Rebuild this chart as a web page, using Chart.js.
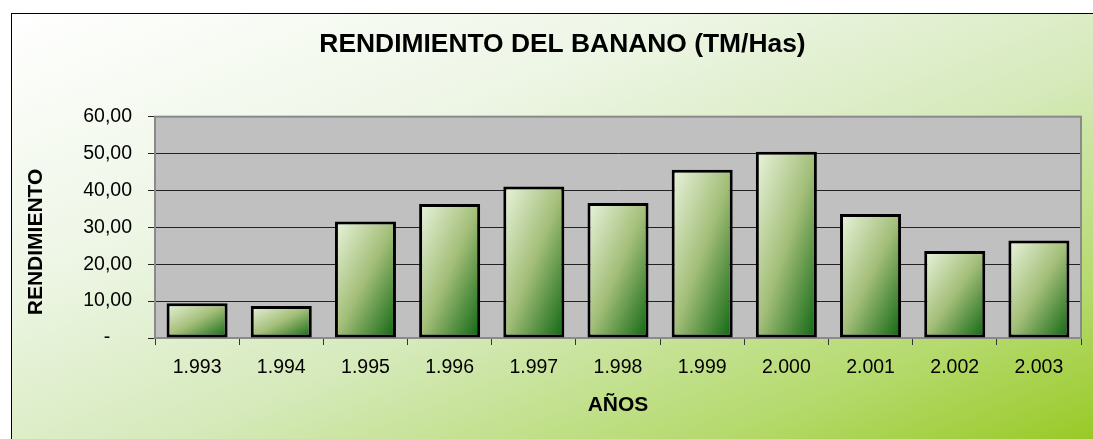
<!DOCTYPE html>
<html>
<head>
<meta charset="utf-8">
<script src="https://cdn.jsdelivr.net/npm/chart.js@4.4.1/dist/chart.umd.min.js"></script>
<style>
  html, body { margin: 0; padding: 0; background: #fff; overflow: hidden; }
  #frame {
    position: absolute; left: 11px; top: 13px; width: 1100px; height: 440px;
    border: 1px solid #000;
    background: linear-gradient(to bottom right, #ffffff 0%, #eef6e6 30%, #d6eabc 55%, #b5da6e 80%, #95c71c 100%);
  }
  #wrap { position: absolute; left: 0; top: 0; width: 1093px; height: 439px; }
</style>
</head>
<body>
<div id="frame"></div>
<div id="wrap"><canvas id="chart"></canvas></div>
<script>
// ===== DATA =====
const years = ["1.993", "1.994", "1.995", "1.996", "1.997", "1.998", "1.999", "2.000", "2.001", "2.002", "2.003"];
const rendimiento = [9.4, 8.7, 31.6, 36.3, 41.1, 36.6, 45.6, 50.5, 33.6, 23.6, 26.4];
const yTicks = [0, 10, 20, 30, 40, 50, 60];

const chartTitle = "RENDIMIENTO DEL BANANO (TM/Has)";
const yTitle = "RENDIMIENTO";
const xTitle = "AÑOS";

const FONT = "'Liberation Sans', Arial, sans-serif";
const BAR_PCT = 0.725;

// gradient per bar: light top-left -> dark green bottom-right,
// bands parallel to the bar's other diagonal (like Excel)
function barFill(ctx) {
  const chart = ctx.chart;
  const area = chart.chartArea;
  if (!area || ctx.dataIndex === undefined) return "#a3be78";
  const xs = chart.scales.x, ys = chart.scales.y;
  const half = (area.width / years.length) * BAR_PCT / 2;
  const cx = xs.getPixelForValue(ctx.dataIndex);
  const top = ys.getPixelForValue(rendimiento[ctx.dataIndex]);
  const bottom = ys.getPixelForValue(0);
  const w = half * 2, h = bottom - top;
  const k = 2 * w * h / (w * w + h * h);
  const x0 = cx - half, y0 = top;
  const g = chart.ctx.createLinearGradient(x0, y0, x0 + h * k, y0 + w * k);
  g.addColorStop(0, "#eaf4de");
  g.addColorStop(0.5, "#a3be78");
  g.addColorStop(1, "#0c6510");
  return g;
}

// grey plot area with grey border
const plotBg = {
  id: "plotBg",
  beforeDraw(chart) {
    const { ctx, chartArea: a } = chart;
    ctx.save();
    ctx.fillStyle = "#c0c0c0";
    ctx.fillRect(a.left, a.top, a.width, a.height);
    ctx.restore();
  },
  beforeDatasetsDraw(chart) {
    const { ctx, chartArea: a } = chart;
    ctx.save();
    ctx.strokeStyle = "#8a8a8a";
    ctx.lineWidth = 2;
    ctx.strokeRect(a.left, a.top, a.width, a.height);
    ctx.restore();
  }
};

new Chart(document.getElementById("chart"), {
  type: "bar",
  data: {
    labels: years,
    datasets: [{
      label: yTitle,
      data: rendimiento,
      backgroundColor: barFill,
      borderColor: "#000",
      borderWidth: 3,
      borderSkipped: false,
      barPercentage: BAR_PCT,
      categoryPercentage: 1
    }]
  },
  options: {
    responsive: true,
    maintainAspectRatio: false,
    animation: false,
    devicePixelRatio: 1,
    layout: { padding: { top: 0, right: 12, left: 44, bottom: 0 } },
    plugins: {
      legend: { display: false },
      tooltip: { enabled: false },
      title: {
        display: true,
        text: chartTitle,
        color: "#000",
        font: { family: FONT, size: 26.4, weight: "bold" },
        padding: { top: 29, bottom: 56 }
      }
    },
    scales: {
      x: {
        offset: true,
        grid: { display: true, drawOnChartArea: false, offset: true, color: "#333", tickLength: 7 },
        border: { display: true, color: "#555", width: 2 },
        ticks: { color: "#000", font: { family: FONT, size: 19.5 }, padding: 11, maxRotation: 0 },
        title: {
          display: true, text: xTitle, color: "#000",
          font: { family: FONT, size: 21, weight: "bold" },
          padding: { top: 0, bottom: 21 }
        },
        afterFit(scale) { scale.height = 101; }
      },
      y: {
        min: 0, max: 60,
        afterBuildTicks(scale) { scale.ticks = yTicks.map(v => ({ value: v })); },
        grid: { color: "#222", lineWidth: 1, tickLength: 7 },
        border: { display: true, color: "#777", width: 2 },
        ticks: {
          color: "#000",
          font: { family: FONT, size: 19.5 },
          padding: 16,
          callback: v => v === 0 ? "-    " : v.toFixed(2).replace(".", ",")
        },
        title: {
          display: true, text: yTitle + "     ", color: "#000",
          font: { family: FONT, size: 21, weight: "bold" },
          padding: { top: -20, bottom: 0 }
        },
        afterFit(scale) { scale.width = 111; }
      }
    }
  },
  plugins: [plotBg]
});
</script>
</body>
</html>
